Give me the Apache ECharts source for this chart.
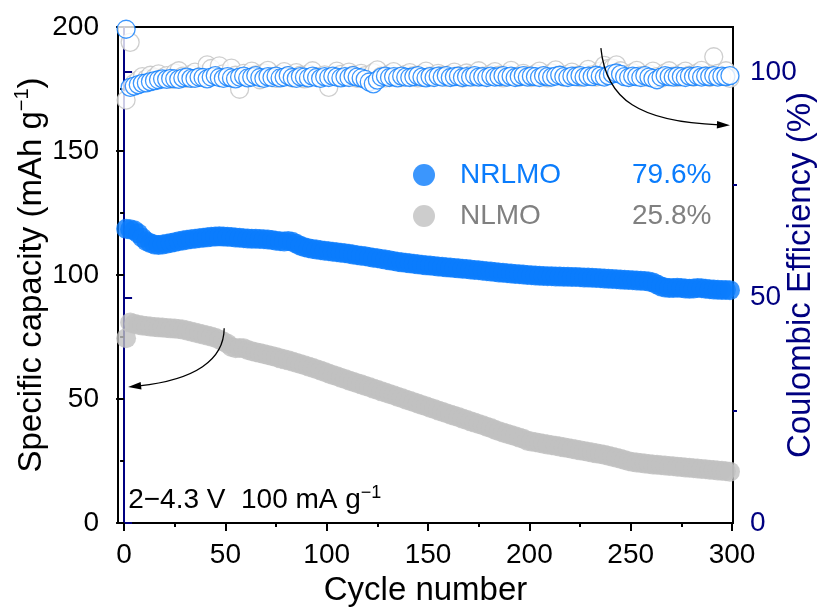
<!DOCTYPE html>
<html><head><meta charset="utf-8">
<script src="https://cdn.jsdelivr.net/npm/echarts@6/dist/echarts.min.js"></script>
<style>html,body{margin:0;padding:0;background:#fff}#main{width:826px;height:608px}</style>
</head><body><div id="main"></div>
<script>
// cycle numbers (every second cycle)
const cycles = [
  1,3,5,7,9,11,13,15,17,19,
  21,23,25,27,29,31,33,35,37,39,
  41,43,45,47,49,51,53,55,57,59,
  61,63,65,67,69,71,73,75,77,79,
  81,83,85,87,89,91,93,95,97,99,
  101,103,105,107,109,111,113,115,117,119,
  121,123,125,127,129,131,133,135,137,139,
  141,143,145,147,149,151,153,155,157,159,
  161,163,165,167,169,171,173,175,177,179,
  181,183,185,187,189,191,193,195,197,199,
  201,203,205,207,209,211,213,215,217,219,
  221,223,225,227,229,231,233,235,237,239,
  241,243,245,247,249,251,253,255,257,259,
  261,263,265,267,269,271,273,275,277,279,
  281,283,285,287,289,291,293,295,297,299
];
// specific capacity (mAh g-1)
const nrlmoCapacity = [
  118.6,118.4,118.0,116.8,115.0,113.6,112.8,112.3,112.1,112.3,
  112.6,112.9,113.2,113.6,113.9,114.2,114.4,114.6,114.8,115.0,
  115.2,115.4,115.5,115.6,115.5,115.4,115.3,115.1,115.0,114.8,
  114.7,114.6,114.6,114.5,114.4,114.3,114.1,113.8,113.6,113.5,
  113.7,113.4,112.6,111.8,111.2,110.8,110.5,110.3,110.0,109.8,
  109.6,109.4,109.2,109.0,108.8,108.6,108.3,108.0,107.8,107.6,
  107.3,107.0,106.8,106.5,106.2,105.9,105.6,105.3,105.1,104.9,
  104.7,104.5,104.3,104.1,103.9,103.8,103.6,103.4,103.3,103.1,
  103.0,102.8,102.7,102.5,102.4,102.2,102.0,101.9,101.7,101.5,
  101.4,101.2,101.0,100.9,100.7,100.6,100.4,100.3,100.2,100.0,
  99.9,99.8,99.7,99.6,99.5,99.5,99.4,99.4,99.3,99.3,
  99.2,99.2,99.1,99.0,99.0,98.9,98.8,98.7,98.6,98.5,
  98.4,98.3,98.2,98.1,98.0,97.9,97.8,97.7,97.6,97.4,
  97.0,96.2,95.4,95.0,94.8,94.8,94.9,94.8,94.6,94.5,
  94.6,94.8,94.7,94.5,94.3,94.2,94.1,94.0,94.0,93.9
];
const nlmoCapacity = [
  74.5,80.8,80.3,79.9,79.6,79.4,79.2,79.0,78.9,78.8,
  78.6,78.5,78.4,78.2,78.0,77.6,77.2,76.8,76.4,76.0,
  75.6,75.2,74.7,74.0,73.2,72.3,71.0,70.5,70.6,70.5,
  69.8,69.3,68.9,68.5,68.1,67.7,67.3,66.9,66.4,66.0,
  65.6,65.1,64.6,64.1,63.6,63.1,62.6,62.0,61.5,60.9,
  60.3,59.7,59.2,58.6,58.1,57.5,57.0,56.4,55.9,55.3,
  54.8,54.2,53.7,53.1,52.6,52.0,51.5,50.9,50.4,49.8,
  49.3,48.7,48.2,47.6,47.1,46.5,46.0,45.4,44.9,44.3,
  43.8,43.2,42.7,42.1,41.6,41.0,40.5,39.9,39.4,38.8,
  38.3,37.6,37.0,36.5,36.0,35.5,35.0,34.5,34.0,33.2,
  32.9,32.6,32.3,32.0,31.7,31.4,31.1,30.8,30.5,30.2,
  29.9,29.6,29.3,29.0,28.7,28.4,28.1,27.8,27.5,27.1,
  26.7,26.3,25.9,25.4,24.9,24.6,24.4,24.2,24.0,23.8,
  23.6,23.5,23.3,23.2,23.0,22.9,22.7,22.6,22.4,22.3,
  22.1,22.0,21.8,21.7,21.5,21.4,21.2,21.1,20.9,20.7
];
// Coulombic efficiency (%)
const nrlmoCE = [
  109.5,96.6,96.9,97.2,97.5,97.6,97.9,98.1,98.3,98.5,
  98.4,98.6,98.5,98.4,98.7,98.9,98.6,98.6,98.9,98.8,
  98.5,98.9,99.2,98.8,98.6,99.0,98.7,98.5,98.9,99.1,
  98.7,98.9,99.2,98.8,98.6,99.0,98.8,99.1,98.7,98.9,
  99.2,98.8,98.6,99.0,98.9,98.7,99.1,98.8,98.6,99.0,
  98.8,99.1,98.9,98.7,99.0,98.8,99.2,98.9,98.7,98.4,
  97.8,97.4,98.2,98.9,99.1,98.8,99.0,98.7,99.1,98.9,
  98.8,99.0,99.2,98.9,98.7,99.0,98.8,99.1,98.9,99.2,
  98.8,99.0,99.1,98.8,99.0,98.9,99.2,98.9,99.0,98.8,
  99.1,98.9,99.0,99.2,98.9,99.1,98.8,99.0,99.2,98.9,
  99.1,99.0,98.8,99.2,99.0,98.9,99.1,99.3,99.0,98.8,
  99.1,99.0,99.2,98.9,99.1,99.0,99.3,99.1,98.9,99.2,
  99.6,99.8,99.5,99.0,98.8,99.1,99.0,98.8,99.2,98.9,
  98.6,98.3,98.9,99.2,99.0,98.9,99.1,99.0,98.8,99.1,
  99.0,99.2,98.9,99.1,99.0,99.2,98.9,99.1,99.0,99.2
];
const nlmoCE = [
  93.8,106.6,97.5,98.2,99.0,98.5,99.3,98.8,99.6,98.7,
  99.2,98.4,99.8,100.3,99.1,98.6,99.5,100.0,98.9,99.4,
  101.6,100.8,99.2,101.4,99.6,98.8,100.9,99.3,96.2,99.7,
  98.9,100.2,99.4,98.3,99.8,100.4,99.0,98.6,99.5,100.1,
  99.2,98.7,99.9,99.3,98.5,99.6,100.3,99.0,98.8,99.4,
  96.6,99.1,100.2,99.5,98.9,100.0,99.3,98.6,99.7,99.2,
  98.8,99.9,100.5,99.1,98.7,99.6,100.1,99.0,98.8,99.5,
  99.9,99.2,98.7,99.6,100.2,99.1,98.9,99.7,99.3,98.8,
  99.5,100.0,99.2,98.7,99.8,99.4,98.9,100.3,99.1,98.8,
  99.6,100.1,99.3,98.7,99.5,100.4,99.0,98.9,99.7,99.2,
  98.8,99.6,100.2,99.1,98.7,99.8,100.5,99.3,98.9,99.5,
  100.0,99.2,98.8,99.7,100.6,99.4,98.9,100.2,101.5,100.8,
  100.9,101.6,100.3,99.4,98.8,99.9,100.4,99.2,98.9,99.6,
  100.2,99.0,98.6,99.8,100.3,99.1,98.8,99.7,100.2,99.3,
  98.9,99.8,100.4,99.2,98.8,103.4,99.7,99.1,100.3,98.6
];
// axis ticks
const xTickValues = [0,50,100,150,200,250,300];
const xMinorValues = [25,75,125,175,225,275];
const ceTickValues = [0,50,100];
const ceMinorValues = [25,75];
// legend / retention labels
const seriesNames = ['NRLMO','NLMO'];
const retention = {NRLMO:'79.6%', NLMO:'25.8%'};
// annotation arrows (data coords of left axis): cubic bezier points
const arrowToCapacity = [[49.4,78.5],[49.3,65.7],[35.0,57.7],[2.0,54.8]];
const arrowToCE = [[235.3,191.5],[237.8,170.6],[254.6,161.7],[299.0,160.4]];
const conditionPos = [2, 9.5];

const FONT = '"Liberation Sans", Arial, Helvetica, sans-serif';
const BLUE = '#0a7cfc';
const GREY = '#c0c0c0';
const GREYTXT = '#808080';
const NAVY = '#000080';

const chart = echarts.init(document.getElementById('main'), null, {renderer:'canvas'});
const pairs = arr => cycles.map((c,i)=>[c, arr[i]]);

const option = {
  animation:false,
  backgroundColor:'#fff',
  textStyle:{fontFamily:FONT},
  grid:{left:118,right:93,top:27,bottom:85,show:true,borderColor:'#000',borderWidth:2,backgroundColor:'transparent',
        containLabel:false, outerBoundsMode:'none'},
  legend:{
    orient:'vertical', left:413, top:161, padding:0, itemWidth:22, itemHeight:22, itemGap:13,
    icon:'circle', selectedMode:false,
    data:[{name:'NRLMO', itemStyle:{color:BLUE}}, {name:'NLMO', itemStyle:{color:GREY}}],
    formatter: n => n==='NRLMO' ? `{nb|${n}}{pb|${retention[n]}}` : `{ng|${n}}{pg|${retention[n]}}`,
    textStyle:{fontFamily:FONT, fontSize:28, padding:[0,0,0,20],
      rich:{
        nb:{width:172,fontSize:28,lineHeight:28,color:BLUE,fontFamily:FONT},
        pb:{fontSize:28,lineHeight:28,color:BLUE,fontFamily:FONT},
        ng:{width:172,fontSize:28,lineHeight:28,color:GREYTXT,fontFamily:FONT},
        pg:{fontSize:28,lineHeight:28,color:GREYTXT,fontFamily:FONT}
      }}
  },
  xAxis:[
    {type:'value', min:-3, max:300.5, name:'Cycle number', nameLocation:'middle', nameGap:51, nameMoveOverlap:false,
     nameTextStyle:{fontSize:33,color:'#000',fontFamily:FONT},
     axisLine:{show:true,onZero:false,lineStyle:{color:'#000',width:2}},
     axisTick:{show:true,length:8,customValues:xTickValues,lineStyle:{color:'#000',width:2}},
     axisLabel:{customValues:xTickValues,fontSize:28,color:'#000',margin:18,fontFamily:FONT},
     splitLine:{show:false}},
    {type:'value', min:-3, max:300.5, position:'bottom',
     axisLine:{show:false,onZero:false},
     axisTick:{show:true,length:4,customValues:xMinorValues,lineStyle:{color:'#000',width:2}},
     axisLabel:{show:false,customValues:xMinorValues},
     splitLine:{show:false}}
  ],
  yAxis:[
    {type:'value', min:0, max:200, interval:50, position:'left',
     name:'{a|Specific capacity (mAh g}{s|−1}{a|)}', nameLocation:'middle', nameGap:70, nameRotate:90, nameMoveOverlap:false,
     nameTextStyle:{color:'#000',fontFamily:FONT,
       rich:{a:{fontSize:33,lineHeight:36,color:'#000',fontFamily:FONT,verticalAlign:'bottom'},
             s:{fontSize:20,lineHeight:36,color:'#000',fontFamily:FONT,verticalAlign:'top'}}},
     axisLine:{show:true,lineStyle:{color:'#000',width:2}},
     axisTick:{show:true,length:8,lineStyle:{color:'#000',width:2}},
     minorTick:{show:true,splitNumber:2,length:4,lineStyle:{color:'#000',width:2}},
     axisLabel:{fontSize:28,color:'#000',margin:19,fontFamily:FONT},
     splitLine:{show:false}},
    {type:'value', min:0, max:110, position:'right',
     name:'Coulombic Efficiency (%)', nameLocation:'middle', nameGap:51, nameRotate:90, nameMoveOverlap:false,
     nameTextStyle:{fontSize:33,color:NAVY,fontFamily:FONT},
     axisLine:{show:true,lineStyle:{color:NAVY,width:2}},
     axisTick:{show:true,length:8,customValues:ceTickValues,lineStyle:{color:NAVY,width:2}},
     axisLabel:{customValues:ceTickValues,fontSize:28,color:NAVY,margin:17,fontFamily:FONT},
     splitLine:{show:false}},
    {type:'value', min:0, max:110, position:'right',
     axisLine:{show:false},
     axisTick:{show:true,length:4,customValues:ceMinorValues,lineStyle:{color:NAVY,width:2}},
     axisLabel:{show:false,customValues:ceMinorValues},
     splitLine:{show:false}}
  ],
  series:[
    {name:'NLMO CE', type:'scatter', xAxisIndex:0, yAxisIndex:1, data:pairs(nlmoCE), symbol:'circle', symbolSize:18,
     itemStyle:{color:'#fff',borderColor:'#c2c2c2',borderWidth:1.3}, silent:true},
    {name:'NRLMO CE', type:'scatter', xAxisIndex:0, yAxisIndex:1, data:pairs(nrlmoCE), symbol:'circle', symbolSize:18,
     itemStyle:{color:'#fff',borderColor:BLUE,borderWidth:1.3}, silent:true},
    {name:'NLMO', type:'scatter', xAxisIndex:0, yAxisIndex:0, data:pairs(nlmoCapacity), symbol:'circle', symbolSize:20,
     itemStyle:{color:GREY}, silent:true},
    {name:'NRLMO', type:'scatter', xAxisIndex:0, yAxisIndex:0, data:pairs(nrlmoCapacity), symbol:'circle', symbolSize:20,
     itemStyle:{color:BLUE}, silent:true}
  ]
};
chart.setOption(option);

function arrowGraphics(pts){
  const p = pts.map(d => chart.convertToPixel({xAxisIndex:0,yAxisIndex:0}, d));
  const tip = p[3], prev = p[2];
  const ang = Math.atan2(tip[1]-prev[1], tip[0]-prev[0]);
  const L = 13, W = 3.8;
  const bx = tip[0]-L*Math.cos(ang), by = tip[1]-L*Math.sin(ang);
  const nx = -Math.sin(ang), ny = Math.cos(ang);
  const end = [tip[0]-(L-2)*Math.cos(ang), tip[1]-(L-2)*Math.sin(ang)];
  return [
    {type:'bezierCurve', silent:true, z:100,
     shape:{x1:p[0][0],y1:p[0][1],cpx1:p[1][0],cpy1:p[1][1],cpx2:p[2][0],cpy2:p[2][1],x2:end[0],y2:end[1]},
     style:{stroke:'#000',lineWidth:1.3,fill:null}},
    {type:'polygon', silent:true, z:101,
     shape:{points:[tip,[bx+nx*W,by+ny*W],[bx-nx*W,by-ny*W]]},
     style:{fill:'#000'}}
  ];
}
const cp = chart.convertToPixel({xAxisIndex:0,yAxisIndex:0}, conditionPos);
chart.setOption({
  graphic:[
    ...arrowGraphics(arrowToCapacity),
    ...arrowGraphics(arrowToCE),
    {type:'text', silent:true, z:100, x:cp[0], y:cp[1],
     style:{text:'{a|2−4.3 V  100 mA g}{s|−1}', verticalAlign:'middle', align:'left',
       rich:{a:{fontSize:28,lineHeight:30,fill:'#000',fontFamily:FONT,verticalAlign:'bottom'},
             s:{fontSize:18,lineHeight:30,fill:'#000',fontFamily:FONT,verticalAlign:'top'}}}}
  ]
});
</script>
</body></html>
